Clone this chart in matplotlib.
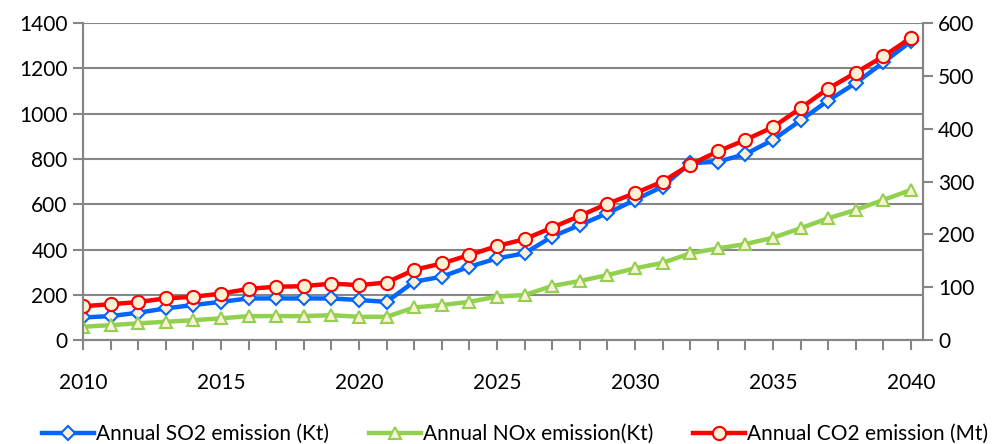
import numpy as np
import matplotlib
matplotlib.use('Agg')
import matplotlib.pyplot as plt

plt.rcParams['font.family'] = ['Lato', 'DejaVu Sans']

years = np.arange(2010, 2041)
so2 = [100, 106, 121, 140, 155, 169, 184, 184, 184, 184, 177, 169, 258, 280, 324,
       361, 383, 457, 508, 560, 619, 678, 781, 788, 821, 884, 970, 1058, 1135, 1226, 1319]
nox = [59, 66, 74, 81, 88, 96, 106, 106, 106, 110, 103, 103, 144, 155, 169,
       192, 199, 239, 261, 287, 317, 341, 383, 405, 424, 452, 494, 538, 575, 619, 663]
co2 = [64, 68, 72, 79, 82, 88, 97, 101, 102, 107, 104, 109, 133, 145, 161,
       178, 191, 213, 235, 258, 278, 300, 332, 357, 379, 403, 439, 476, 506, 537, 572]
labels = ['Annual SO2 emission (Kt)', 'Annual NOx emission(Kt)', 'Annual CO2 emission (Mt)']

grey = '#868686'
face = '#FDF0D5'

fig = plt.figure(figsize=(9.95, 4.44), dpi=100)
ax = fig.add_axes([0.0834, 0.234, 0.844, 0.714])
ax2 = ax.twinx()

l1, = ax.plot(years, so2, color='#0066FF', lw=3.2, marker='D', ms=7.5,
              mfc=face, mec='#0066FF', mew=1.5, label=labels[0])
l2, = ax.plot(years, nox, color='#92D050', lw=3.2, marker='^', ms=9,
              mfc=face, mec='#92D050', mew=1.5, label=labels[1])
l3, = ax2.plot(years, co2, color='#FF0000', lw=3.2, marker='o', ms=9.5,
               mfc=face, mec='#FF0000', mew=1.5, label=labels[2])

ax.set_xlim(2010, 2040.43)
ax.set_ylim(0, 1400)
ax2.set_ylim(0, 600)
ax.set_yticks(np.arange(0, 1401, 200))
ax2.set_yticks(np.arange(0, 601, 100))
ax.set_xticks(np.arange(2010, 2041, 5))
ax.set_xticks(years, minor=True)

ax.grid(axis='y', color=grey, lw=1.5)
ax.set_axisbelow(True)
for a in (ax, ax2):
    for s in ['top']:
        a.spines[s].set_visible(False)
    for s in ['left', 'right', 'bottom']:
        a.spines[s].set_color(grey)
        a.spines[s].set_linewidth(1.5)
ax.tick_params(axis='y', labelsize=15, length=7, width=1.5, color=grey, pad=4)
ax2.tick_params(axis='y', labelsize=15, length=7, width=1.5, color=grey, pad=4)
ax.tick_params(axis='x', which='both', labelsize=15, length=7, width=1.5, color=grey, pad=17)

fig.legend(handles=[l1, l2, l3], loc='lower center', bbox_to_anchor=(0.518, -0.042),
           ncol=3, frameon=False, fontsize=15, handlelength=2.5, handletextpad=0.1,
           columnspacing=1.9)

fig.savefig('out.png', dpi=100)
